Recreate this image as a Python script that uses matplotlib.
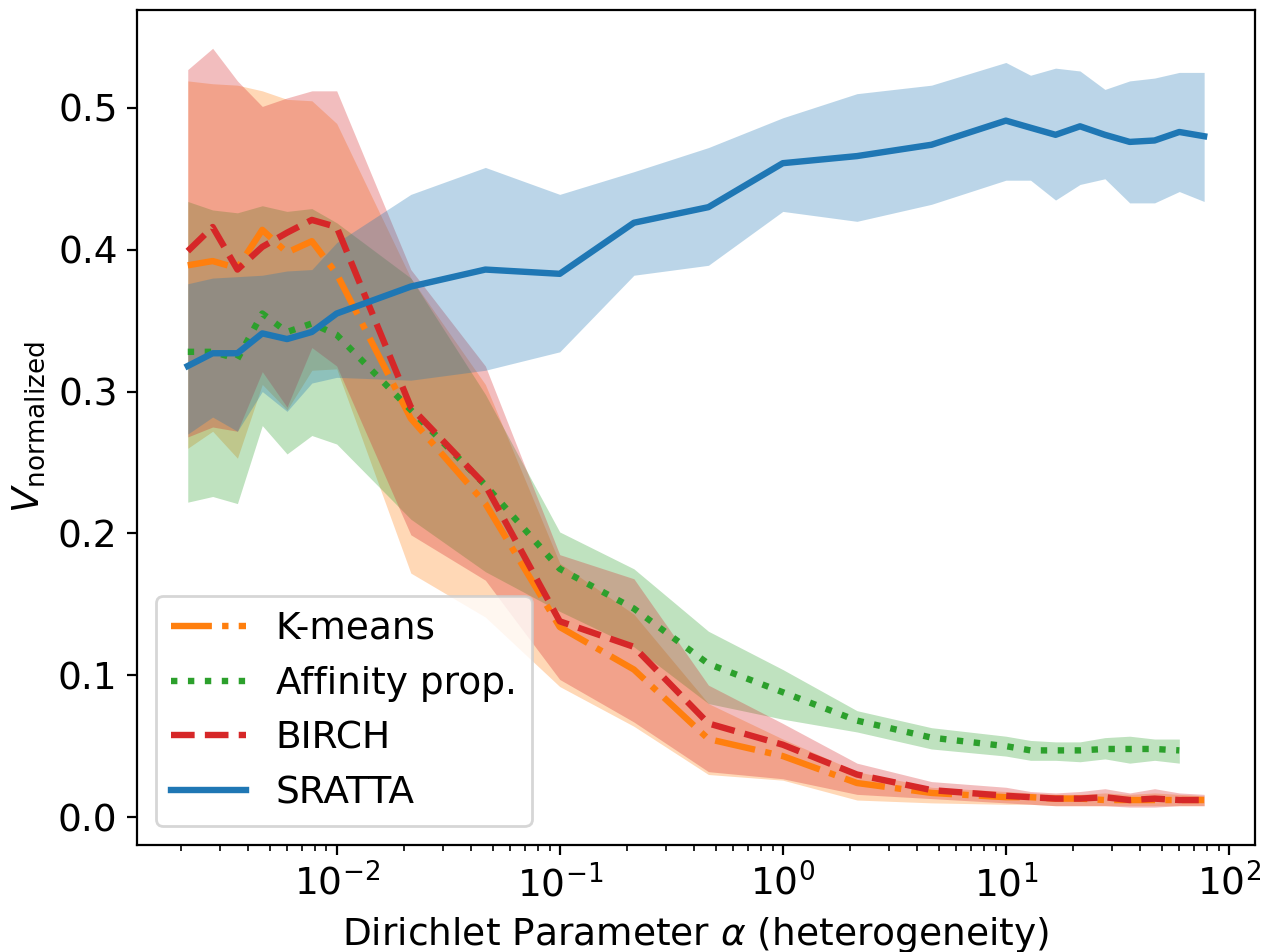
import numpy as np
import matplotlib
matplotlib.use("Agg")
import matplotlib.pyplot as plt

# valores de alpha (eixo x, escala log)
alphas = [0.00215, 0.00278, 0.00359, 0.00464, 0.00599, 0.00774, 0.01, 0.0215, 0.0464,
          0.1, 0.215, 0.464, 1.0, 2.15, 4.64, 10.0, 12.9, 16.7, 21.5, 27.8, 35.9, 46.4, 59.9, 77.4]
alphas_ap = alphas[:-1]  # affinity prop. acaba um ponto antes

# K-means
km_mean = [0.389, 0.392, 0.387, 0.414, 0.398, 0.406, 0.383, 0.281, 0.221, 0.134, 0.104, 0.055,
           0.043, 0.024, 0.017, 0.014, 0.014, 0.013, 0.013, 0.012, 0.012, 0.012, 0.012, 0.012]
km_low = [0.260, 0.272, 0.253, 0.305, 0.287, 0.315, 0.316, 0.172, 0.141, 0.092, 0.064, 0.030,
          0.026, 0.012, 0.010, 0.009, 0.009, 0.008, 0.008, 0.008, 0.008, 0.008, 0.008, 0.008]
km_up = [0.519, 0.517, 0.516, 0.512, 0.506, 0.505, 0.489, 0.380, 0.305, 0.179, 0.143, 0.080,
         0.055, 0.032, 0.021, 0.018, 0.017, 0.016, 0.016, 0.017, 0.016, 0.017, 0.016, 0.015]

# Affinity propagation
ap_mean = [0.328, 0.328, 0.323, 0.355, 0.342, 0.348, 0.340, 0.287, 0.234, 0.175, 0.147, 0.108,
           0.088, 0.068, 0.056, 0.050, 0.047, 0.047, 0.047, 0.048, 0.048, 0.048, 0.047]
ap_low = [0.222, 0.226, 0.221, 0.276, 0.256, 0.269, 0.263, 0.210, 0.173, 0.145, 0.120, 0.080,
          0.069, 0.060, 0.048, 0.043, 0.040, 0.040, 0.039, 0.041, 0.038, 0.040, 0.038]
ap_up = [0.434, 0.428, 0.426, 0.431, 0.427, 0.429, 0.419, 0.380, 0.298, 0.201, 0.175, 0.131,
         0.104, 0.075, 0.063, 0.057, 0.054, 0.053, 0.053, 0.056, 0.057, 0.055, 0.055]

# BIRCH
bi_mean = [0.399, 0.416, 0.386, 0.402, 0.412, 0.421, 0.416, 0.289, 0.234, 0.138, 0.120, 0.066,
           0.051, 0.030, 0.019, 0.015, 0.014, 0.013, 0.013, 0.014, 0.012, 0.013, 0.012, 0.012]
bi_low = [0.268, 0.275, 0.272, 0.314, 0.289, 0.331, 0.318, 0.199, 0.167, 0.097, 0.067, 0.032,
          0.027, 0.016, 0.013, 0.010, 0.009, 0.008, 0.008, 0.008, 0.007, 0.007, 0.008, 0.008]
bi_up = [0.527, 0.542, 0.519, 0.501, 0.507, 0.512, 0.512, 0.386, 0.318, 0.185, 0.168, 0.093,
         0.066, 0.038, 0.025, 0.021, 0.018, 0.017, 0.018, 0.020, 0.017, 0.020, 0.017, 0.016]

# SRATTA
sr_mean = [0.318, 0.327, 0.327, 0.341, 0.337, 0.342, 0.355, 0.374, 0.386, 0.383, 0.419, 0.430,
           0.461, 0.466, 0.474, 0.491, 0.486, 0.481, 0.487, 0.481, 0.476, 0.477, 0.483, 0.480]
sr_low = [0.270, 0.282, 0.272, 0.300, 0.286, 0.306, 0.310, 0.308, 0.315, 0.328, 0.382, 0.389,
          0.427, 0.420, 0.432, 0.449, 0.449, 0.435, 0.446, 0.450, 0.433, 0.433, 0.441, 0.434]
sr_up = [0.376, 0.380, 0.381, 0.382, 0.385, 0.386, 0.405, 0.439, 0.458, 0.439, 0.455, 0.472,
         0.493, 0.510, 0.516, 0.532, 0.523, 0.528, 0.526, 0.513, 0.519, 0.521, 0.525, 0.525]

plt.rcParams['font.size'] = 13.5

fig = plt.figure(figsize=(6.305, 4.76), dpi=200)
ax = fig.add_axes([0.1086, 0.1124, 0.8866, 0.8771])

lw = 2.3
ax.plot(alphas, km_mean, '-.', color='tab:orange', lw=lw, label='K-means')
ax.fill_between(alphas, km_low, km_up, color='tab:orange', alpha=0.3, lw=0)

ax.plot(alphas_ap, ap_mean, ':', color='tab:green', lw=lw, label='Affinity prop.')
ax.fill_between(alphas_ap, ap_low, ap_up, color='tab:green', alpha=0.3, lw=0)

ax.plot(alphas, bi_mean, '--', color='tab:red', lw=lw, label='BIRCH')
ax.fill_between(alphas, bi_low, bi_up, color='tab:red', alpha=0.3, lw=0)

ax.plot(alphas, sr_mean, '-', color='tab:blue', lw=lw, label='SRATTA')
ax.fill_between(alphas, sr_low, sr_up, color='tab:blue', alpha=0.3, lw=0)

ax.set_xscale('log')
ax.set_ylim(-0.0197, 0.569)
ax.set_xlabel(r'Dirichlet Parameter $\alpha$ (heterogeneity)')
ax.set_ylabel(r'$V_{\mathrm{normalized}}$')
ax.legend(loc='lower left')

fig.savefig('out.png', dpi=200)
